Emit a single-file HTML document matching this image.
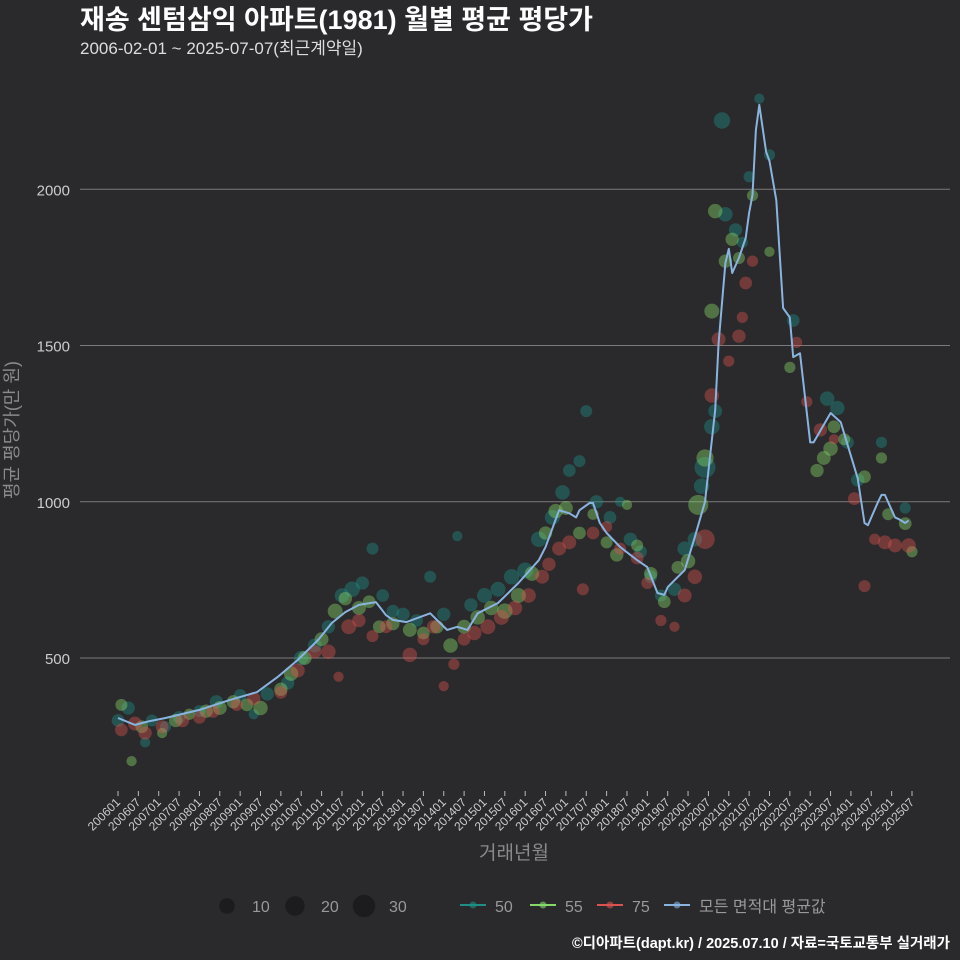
<!DOCTYPE html>
<html><head><meta charset="utf-8">
<style>
html,body{margin:0;padding:0;background:#2a292b;}
svg{display:block;font-family:"Liberation Sans","Noto Sans CJK KR",sans-serif;}
</style></head>
<body>
<svg id="chart" width="960" height="960" viewBox="0 0 960 960">
<rect x="0" y="0" width="960" height="960" fill="#2a292b"/>
<text x="80" y="29" font-size="27" font-weight="bold" fill="#ffffff">재송 센텀삼익 아파트(1981) 월별 평균 평당가</text>
<text x="80" y="54" font-size="17" fill="#dddddd">2006-02-01 ~ 2025-07-07(최근계약일)</text>
<g id="grid"></g>
<g id="yticks"></g>
<g id="xticks"></g>
<g id="points"></g>
<g id="lines"></g>
<text x="18" y="430" font-size="18" fill="#8a8a8a" text-anchor="middle" letter-spacing="0" transform="rotate(-90 18 430)">평균 평당가(만 원)</text>
<text x="514" y="859" font-size="19" fill="#8a8a8a" text-anchor="middle">거래년월</text>
<g id="legend"></g>
<text x="950" y="948" font-size="14.5" font-weight="bold" fill="#ffffff" text-anchor="end">©디아파트(dapt.kr) / 2025.07.10 / 자료=국토교통부 실거래가</text>
</svg>
<script>
const yTicks = [500, 1000, 1500, 2000];
const avgMonths = ["200601","200606","200610","200703","200801","200810","200906","200912","201006","201012","201104","201108","201112","201205","201208","201210","201302","201309","201402","201405","201408","201411","201505","201511","201605","201607","201611","201702","201704","201705","201708","201709","201711","201801","201805","201810","201901","201904","201906","201907","201910","201912","202003","202006","202009","202010","202012","202101","202102","202104","202106","202107","202108","202109","202110","202112","202201","202203","202205","202207","202208","202210","202301","202302","202307","202310","202403","202405","202406","202409","202410","202411","202502","202503","202505","202506"];
const avgValues = [308,286,297,308,334,366,391,439,494,558,612,647,670,679,637,622,615,643,590,600,590,643,676,740,813,855,973,963,950,973,996,996,932,900,855,813,791,708,702,727,760,781,887,1000,1294,1508,1764,1809,1732,1780,1844,1924,1982,2190,2270,2120,2090,1965,1620,1590,1463,1475,1190,1190,1284,1255,1075,932,925,1000,1022,1022,950,945,932,940];

const s50Months = ["200601","200604","200609","200611","200703","200707","200801","200806","200901","200905","200909","201003","201007","201011","201103","201107","201110","201201","201204","201207","201210","201301","201305","201309","201401","201405","201409","201501","201505","201509","201601","201605","201609","201612","201702","201705","201707","201710","201802","201805","201808","201811","201902","201905","201909","201912","202003","202005","202006","202008","202009","202011","202012","202103","202105","202107","202110","202201","202208","202306","202309","202312","202403","202410","202505"];
const s50Values = [300,340,230,300,280,310,330,360,380,320,385,420,500,540,600,700,720,740,850,700,650,640,620,760,640,890,670,700,720,760,780,880,950,1030,1100,1130,1290,1000,950,1000,880,840,760,700,720,850,880,1050,1110,1240,1290,2220,1920,1870,1830,2040,2290,2110,1580,1330,1300,1190,1070,1190,980];
const s50Counts = [5,6,2,4,3,5,4,6,5,2,6,6,8,7,6,8,10,6,4,5,5,6,5,4,6,2,6,9,9,10,11,10,9,8,5,4,4,6,5,2,6,5,5,4,6,8,8,10,25,10,7,12,8,6,3,3,2,3,5,8,8,5,6,3,3];

const s55Months = ["200602","200605","200608","200702","200706","200710","200803","200807","200811","200903","200907","201001","201004","201008","201101","201105","201108","201112","201203","201206","201210","201303","201307","201311","201403","201407","201411","201503","201507","201511","201603","201607","201610","201701","201705","201709","201801","201804","201807","201810","201902","201906","201910","202001","202004","202006","202008","202009","202012","202102","202104","202108","202201","202207","202303","202305","202307","202308","202311","202405","202410","202412","202505","202507"];
const s55Values = [350,170,280,260,300,320,330,340,360,350,340,400,450,500,560,650,690,660,680,600,610,590,580,600,540,600,630,660,650,700,770,900,970,980,900,960,870,830,990,860,770,680,790,810,990,1140,1610,1930,1770,1840,1780,1980,1800,1430,1100,1140,1170,1240,1200,1080,1140,960,930,840];
const s55Counts = [4,2,5,2,6,3,6,7,6,5,8,6,8,7,7,9,6,7,5,5,6,7,5,6,8,7,8,8,10,9,8,6,8,7,5,3,4,6,2,4,6,5,5,8,22,14,9,8,6,6,4,3,2,3,6,7,8,5,4,5,3,4,5,3];

const s75Months = ["200602","200606","200609","200702","200708","200801","200805","200812","200905","201001","201006","201011","201103","201106","201109","201112","201204","201208","201303","201307","201310","201401","201404","201407","201410","201502","201506","201510","201602","201606","201608","201611","201702","201706","201709","201801","201805","201810","201901","201905","201909","201912","202003","202006","202008","202010","202101","202104","202105","202106","202108","202209","202212","202304","202308","202402","202405","202408","202411","202502","202506"];
const s75Values = [270,290,260,280,300,310,330,350,370,390,460,520,520,440,600,620,570,600,510,560,600,410,480,560,580,600,630,660,700,760,800,850,870,720,900,920,850,820,740,620,600,700,760,880,1340,1520,1450,1530,1590,1700,1770,1510,1320,1230,1200,1010,730,880,870,860,860];
const s75Counts = [5,7,6,5,6,5,6,4,6,5,7,6,8,2,9,6,4,5,8,4,6,2,3,5,8,9,9,8,8,7,6,7,7,4,5,3,4,5,4,3,2,7,8,20,8,7,3,6,3,5,3,3,3,6,2,5,4,3,7,7,8];

const xTickLabels = [];
for (let yr = 2006; yr <= 2025; yr++) { xTickLabels.push(yr + "01"); xTickLabels.push(yr + "07"); }

const NS = "http://www.w3.org/2000/svg";
function monthIndex(s){ return (parseInt(s.slice(0,4))-2006)*12 + parseInt(s.slice(4,6))-1; }
function xScale(s){ return 118 + monthIndex(s)*(794/234); }
function yScale(v){ return 658 - (v-500)*0.3125; }
function rScale(n){ return 3 + 1.5*Math.sqrt(n); }
function mk(tag, attrs, parent){ const e=document.createElementNS(NS,tag); for(const k in attrs) e.setAttribute(k, attrs[k]); parent.appendChild(e); return e; }

const grid = document.getElementById('grid');
const yt = document.getElementById('yticks');
yTicks.forEach(v => {
  const l = mk('line', {x1:80, x2:950, y1:yScale(v), y2:yScale(v), stroke:'#7a7a7a', 'stroke-width':1}, grid);
  
  
  const t = mk('text', {x:70, y:yScale(v)+6, 'font-size':15, fill:'#cccccc', 'text-anchor':'end'}, yt);
  t.textContent = v;
  
  
});
const xt = document.getElementById('xticks');
xTickLabels.forEach(s => {
  const x = xScale(s);
  const tk = mk('line', {x1:x, x2:x, y1:791, y2:796, stroke:'#bbbbbb', 'stroke-width':1}, xt);
  
  
  const t = mk('text', {x:x+3, y:803, 'font-size':12, fill:'#cccccc', 'text-anchor':'end', transform:'rotate(-45 '+(x+3)+' 803)'}, xt);
  t.textContent = s;
  
  
});

const pts = document.getElementById('points');
function drawSeries(months, values, counts, color, name){
  months.forEach((m,i) => {
    const c = mk('circle', {cx:xScale(m), cy:yScale(values[i]), r:rScale(counts[i]), fill:color, 'fill-opacity':0.42}, pts);
    
    
  });
}
drawSeries(s50Months, s50Values, s50Counts, '#1f8f86', 'point-area-50');
drawSeries(s55Months, s55Values, s55Counts, '#86d86a', 'point-area-55');
drawSeries(s75Months, s75Values, s75Counts, '#d9534f', 'point-area-75');

const lines = document.getElementById('lines');
const d = avgMonths.map((m,i) => (i?'L':'M') + xScale(m).toFixed(1) + ',' + yScale(avgValues[i]).toFixed(1)).join(' ');
const p = mk('path', {d:d, fill:'none', stroke:'#8ab4e0', 'stroke-width':2, 'stroke-linejoin':'round'}, lines);



const lg = document.getElementById('legend');
const sizes = [[10,227,252],[20,295,321],[30,364,389]];
sizes.forEach(s => {
  const c = mk('circle', {cx:s[1], cy:906, r:rScale(s[0]), fill:'#1c1b1d'}, lg);
  
  
  const t = mk('text', {x:s[2], y:912, 'font-size':16, fill:'#999999'}, lg);
  t.textContent = s[0];
  
  
});
const lineLeg = [['#1f8f86',460,'50'],['#86d86a',530,'55'],['#d9534f',597,'75'],['#8ab4e0',664,'모든 면적대 평균값']];
lineLeg.forEach(s => {
  const l = mk('line', {x1:s[1], x2:s[1]+26, y1:905, y2:905, stroke:s[0], 'stroke-width':2}, lg);
  
  
  const c = mk('circle', {cx:s[1]+13, cy:905, r:3.5, fill:s[0], 'fill-opacity':0.6}, lg);
  
  
  const t = mk('text', {x:s[1]+35, y:912, 'font-size':16, fill:'#999999'}, lg);
  t.textContent = s[2];
  
  
});
</script>
</body></html>
